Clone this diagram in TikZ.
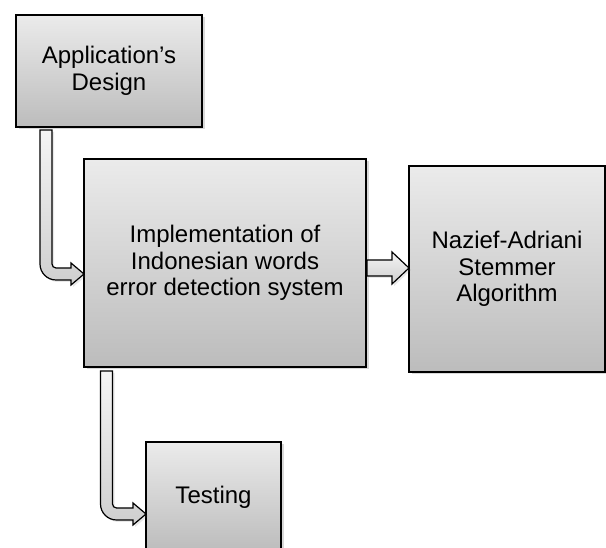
\documentclass[tikz,border=0pt]{standalone}
\usepackage{fontspec}
\setmainfont{Liberation Sans}
\usetikzlibrary{calc,shadows}
\definecolor{boxtop}{HTML}{EBEBEB}
\definecolor{boxbot}{HTML}{BCBCBC}
\definecolor{arrtop}{HTML}{F4F4F4}
\definecolor{arrbot}{HTML}{CFCFCF}
\tikzset{
  procbox/.style={draw=black, line width=1.3pt, rectangle, inner sep=0pt, outer sep=0pt,
    top color=boxtop, bottom color=boxbot, align=center,
    font=\fontsize{24}{26.8}\selectfont,
    drop shadow={shadow xshift=2.5pt, shadow yshift=-2.5pt, opacity=0.25, fill=black!60}},
  blockarrow/.style={draw=black, line width=1.2pt, line join=miter,
    top color=arrtop, bottom color=arrbot,
    drop shadow={shadow xshift=2pt, shadow yshift=-2pt, opacity=0.15, fill=black!60}}
}
\newcommand\bentblockarrow[2]{%
  \path[blockarrow] let \p1=(#1), \p2=(#2) in
    (\x1-6pt,\y1) -- (\x1+6pt,\y1) -- (\x1+6pt,\y2+10pt)
    .. controls (\x1+6pt,\y2+7.8pt) and (\x1+7.8pt,\y2+6pt) .. (\x1+10pt,\y2+6pt)
    -- (\x2-13pt,\y2+6pt) -- (\x2-13pt,\y2+11pt) -- (\x2,\y2) -- (\x2-13pt,\y2-11pt)
    -- (\x2-13pt,\y2-6pt) -- (\x1+10pt,\y2-6pt)
    .. controls (\x1+1.2pt,\y2-6pt) and (\x1-6pt,\y2+1.2pt) .. (\x1-6pt,\y2+10pt)
    -- cycle;}
\begin{document}
\begin{tikzpicture}[x=1pt,y=1pt]
\useasboundingbox (0,0) rectangle (606,548);
\node[procbox, minimum width=186pt, minimum height=112pt] (design) at (109,477)
  {Application’s\\Design};
\node[procbox, minimum width=282pt, minimum height=208pt] (impl) at (225,285)
  {Implementation of\\Indonesian words\\error detection system};
\node[procbox, minimum width=196pt, minimum height=206pt] (stem) at (507,279)
  {Nazief-Adriani\\Stemmer\\Algorithm};
\node[procbox, minimum width=135pt, minimum height=110pt] (test) at (213.5,51)
  {Testing};
% connector anchors
\coordinate (s1) at ($(design.south)+(-63,-3)$);
\coordinate (t1) at ($(impl.west)+(0,-11)$);
\coordinate (s3) at ($(impl.south)+(-118.5,-4)$);
\coordinate (t3) at ($(test.west)+(0,-17)$);
\coordinate (s2) at ($(impl.east)+(1,-5)$);
\coordinate (t2) at ($(stem.west)+(0,1)$);
\bentblockarrow{s1}{t1}
\bentblockarrow{s3}{t3}
\path[blockarrow] let \p1=(s2), \p2=(t2) in
  (\x1,\y2+8pt) -- (\x2-17pt,\y2+8pt) -- (\x2-17pt,\y2+16pt) -- (\x2,\y2)
  -- (\x2-17pt,\y2-16pt) -- (\x2-17pt,\y2-8pt) -- (\x1,\y2-8pt) -- cycle;
\end{tikzpicture}
\end{document}
